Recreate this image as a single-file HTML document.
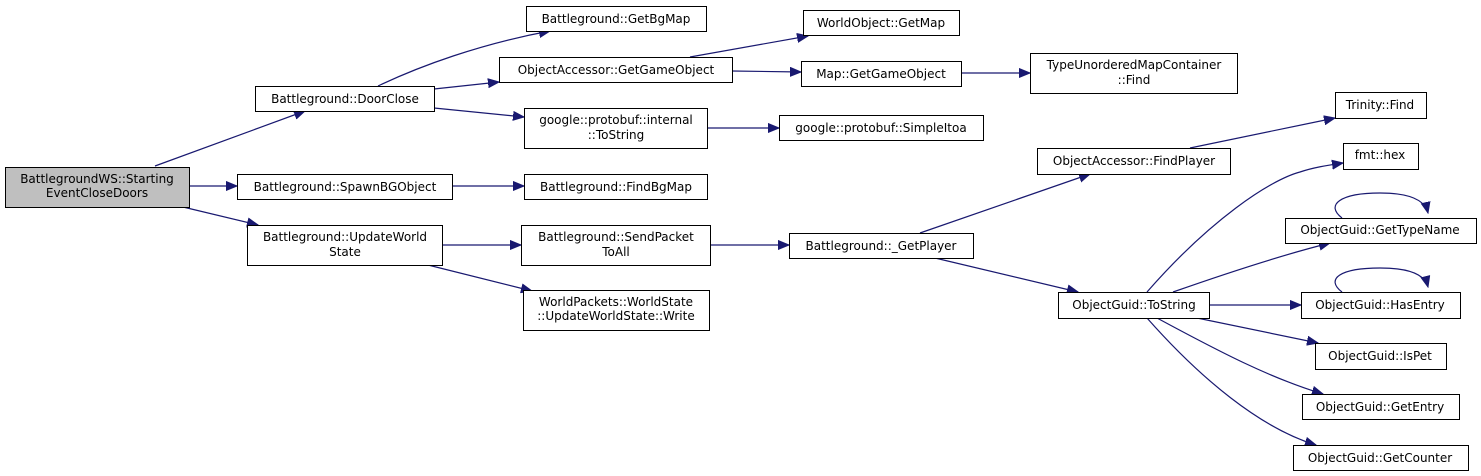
<!DOCTYPE html>
<html><head><meta charset="utf-8"><style>
html,body{margin:0;padding:0;background:#fff;}
svg{display:block;}
text{font-family:"DejaVu Sans","Liberation Sans",sans-serif;font-size:12px;fill:#000;}
</style></head><body>
<svg width="1481" height="476" viewBox="0 0 1481 476" xmlns="http://www.w3.org/2000/svg">
<defs>
<marker id="a" markerUnits="userSpaceOnUse" markerWidth="12" markerHeight="10" refX="11" refY="5" orient="auto">
<polygon points="0,0.5 11,5 0,9.5" fill="#191970" stroke="#191970"/>
</marker>
</defs>
<g fill="none" stroke="#191970" stroke-width="1.2" marker-end="url(#a)">
<path d="M155,166 L305,111"/>
<path d="M189,186 L237,186"/>
<path d="M183,207 L258,225"/>
<path d="M378,86 C420,66 480,44 550,31"/>
<path d="M434,89 L499,82"/>
<path d="M434,108 L524,117"/>
<path d="M452,186 L524,186"/>
<path d="M442,245 L521,245"/>
<path d="M428,265 L532,291"/>
<path d="M690,57 L808,36"/>
<path d="M732,71 L801,72"/>
<path d="M961,73 L1030,73"/>
<path d="M707,128 L779,128"/>
<path d="M710,245 L789,245"/>
<path d="M920,233 L1090,174"/>
<path d="M935,258 L1078,292"/>
<path d="M1190,148 L1335,118"/>
<path d="M1147,292 C1210,220 1270,180 1300,172 C1315,167 1330,165 1343,163"/>
<path d="M1173,292 C1230,272 1290,253 1330,243"/>
<path d="M1209,305 L1301,305"/>
<path d="M1197,318 L1318,343"/>
<path d="M1157,318 C1220,352 1270,378 1323,394"/>
<path d="M1147,318 C1200,378 1260,428 1316,445"/>
<path d="M1342,218 C1325,205 1340,193 1380,193 C1410,193 1425,200 1428,213"/>
<path d="M1342,292 C1325,279 1340,268 1380,268 C1410,268 1425,275 1428,287"/>
</g>
<g stroke="#000" stroke-width="1" fill="#fff">
<rect x="5.5" y="167.5" width="184" height="40" fill="#bfbfbf"/>
<rect x="255.5" y="86.5" width="179" height="25"/>
<rect x="237.5" y="174.5" width="215" height="25"/>
<rect x="247.5" y="225.5" width="195" height="40"/>
<rect x="526.5" y="6.5" width="180" height="25"/>
<rect x="499.5" y="57.5" width="233" height="25"/>
<rect x="803.5" y="10.5" width="156" height="25"/>
<rect x="801.5" y="61.5" width="160" height="25"/>
<rect x="524.5" y="108.5" width="183" height="40"/>
<rect x="779.5" y="115.5" width="204" height="25"/>
<rect x="524.5" y="174.5" width="183" height="25"/>
<rect x="521.5" y="225.5" width="189" height="40"/>
<rect x="789.5" y="233.5" width="184" height="25"/>
<rect x="523.5" y="290.5" width="186" height="40"/>
<rect x="1030.5" y="53.5" width="207" height="40"/>
<rect x="1335.5" y="92.5" width="91" height="26"/>
<rect x="1037.5" y="148.5" width="193" height="26"/>
<rect x="1343.5" y="143.5" width="75" height="26"/>
<rect x="1285.5" y="218.5" width="191" height="25"/>
<rect x="1058.5" y="292.5" width="151" height="26"/>
<rect x="1301.5" y="292.5" width="159" height="26"/>
<rect x="1315.5" y="343.5" width="131" height="26"/>
<rect x="1302.5" y="394.5" width="157" height="25"/>
<rect x="1293.5" y="445.5" width="175" height="25"/>
</g>
<g text-anchor="middle">
<text x="97" y="183">BattlegroundWS::Starting</text>
<text x="97" y="197">EventCloseDoors</text>
<text x="345" y="103">Battleground::DoorClose</text>
<text x="345" y="191">Battleground::SpawnBGObject</text>
<text x="345" y="241">Battleground::UpdateWorld</text>
<text x="345" y="256">State</text>
<text x="616" y="23">Battleground::GetBgMap</text>
<text x="616" y="74">ObjectAccessor::GetGameObject</text>
<text x="881" y="27">WorldObject::GetMap</text>
<text x="881" y="78">Map::GetGameObject</text>
<text x="616" y="124">google::protobuf::internal</text>
<text x="616" y="139">::ToString</text>
<text x="881" y="132">google::protobuf::SimpleItoa</text>
<text x="616" y="191">Battleground::FindBgMap</text>
<text x="616" y="241">Battleground::SendPacket</text>
<text x="616" y="256">ToAll</text>
<text x="881" y="250">Battleground::_GetPlayer</text>
<text x="616" y="306">WorldPackets::WorldState</text>
<text x="616" y="320">::UpdateWorldState::Write</text>
<text x="1134" y="69">TypeUnorderedMapContainer</text>
<text x="1134" y="84">::Find</text>
<text x="1380" y="109">Trinity::Find</text>
<text x="1134" y="165">ObjectAccessor::FindPlayer</text>
<text x="1380" y="159">fmt::hex</text>
<text x="1380" y="234">ObjectGuid::GetTypeName</text>
<text x="1134" y="309">ObjectGuid::ToString</text>
<text x="1380" y="309">ObjectGuid::HasEntry</text>
<text x="1380" y="360">ObjectGuid::IsPet</text>
<text x="1380" y="411">ObjectGuid::GetEntry</text>
<text x="1380" y="462">ObjectGuid::GetCounter</text>
</g>
</svg>
</body></html>
